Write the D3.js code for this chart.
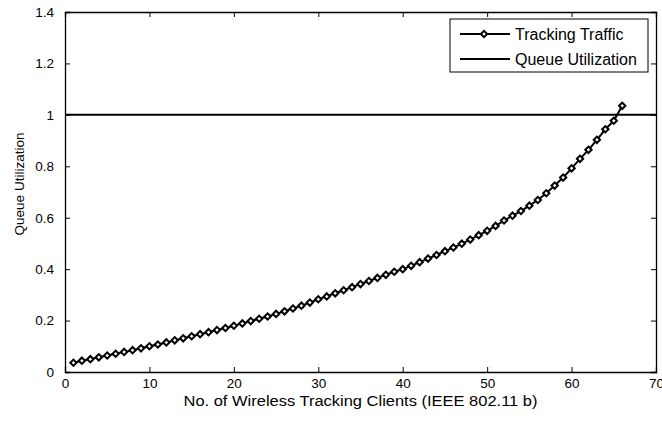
<!DOCTYPE html>
<html>
<head>
<meta charset="utf-8">
<script src="https://cdn.jsdelivr.net/npm/d3@7"></script>
<style>
body { margin: 0; background: #fff; }
text { font-family: "Liberation Sans", Arial, sans-serif; fill: #000; }
</style>
</head>
<body>
<svg id="chart"></svg>
<script>
// data
var clients = d3.range(1, 67);
var trackingTraffic = [
    0.036, 0.044, 0.050, 0.057, 0.064, 0.071, 0.078, 0.085, 0.092, 0.100,
    0.107, 0.115, 0.123, 0.131, 0.139, 0.147, 0.155, 0.163, 0.171, 0.180,
    0.189, 0.198, 0.207, 0.216, 0.226, 0.236, 0.247, 0.258, 0.270, 0.283,
    0.294, 0.306, 0.318, 0.330, 0.342, 0.354, 0.366, 0.378, 0.390, 0.400,
    0.413, 0.427, 0.441, 0.455, 0.470, 0.484, 0.499, 0.515, 0.532, 0.549,
    0.568, 0.589, 0.608, 0.626, 0.647, 0.669, 0.695, 0.725, 0.756, 0.792,
    0.829, 0.864, 0.903, 0.944, 0.977, 1.035
];
var queueLimit = 1;
var xTicks = [0, 10, 20, 30, 40, 50, 60, 70];
var yTicks = [0, 0.2, 0.4, 0.6, 0.8, 1, 1.2, 1.4];
var seriesNames = ['Tracking Traffic', 'Queue Utilization'];

var margin = { top: 12, right: 6, bottom: 49, left: 65 };
var width = 662 - margin.left - margin.right;
var height = 421 - margin.top - margin.bottom;

var svg = d3.select('#chart')
    .attr('width', 662)
    .attr('height', 421)
    .append('g')
    .attr('transform', `translate(${margin.left}, ${margin.top})`);

var xScale = d3.scaleLinear().domain([0, 70]).range([0, width]);
var yScale = d3.scaleLinear().domain([0, 1.4]).range([height, 0]);

// axes with inward ticks on all four sides
var fmt = d3.format('~g');
svg.append('g')
    .attr('transform', `translate(0, ${height})`)
    .call(d3.axisBottom(xScale).tickValues(xTicks).tickSize(-5).tickPadding(6).tickFormat(fmt));
svg.append('g')
    .call(d3.axisTop(xScale).tickValues(xTicks).tickSize(-5).tickFormat(''));
svg.append('g')
    .call(d3.axisLeft(yScale).tickValues(yTicks).tickSize(-5).tickPadding(11).tickFormat(fmt));
svg.append('g')
    .attr('transform', `translate(${width}, 0)`)
    .call(d3.axisRight(yScale).tickValues(yTicks).tickSize(-5).tickFormat(''));

svg.selectAll('.domain').attr('stroke', '#000').attr('stroke-width', 1.3);
svg.selectAll('.tick line').attr('stroke', '#000');
svg.selectAll('.tick text').style('font-size', '13.5px').attr('fill', '#000');

// Labels
svg.append('text')
    .attr('x', width / 2 - 177)
    .attr('y', height + 34)
    .attr('textLength', 354)
    .attr('lengthAdjust', 'spacingAndGlyphs')
    .style('font-size', '14px')
    .text('No. of Wireless Tracking Clients (IEEE 802.11 b)');

svg.append('text')
    .attr('transform', 'rotate(-90)')
    .attr('x', -172)
    .attr('y', -41)
    .style('text-anchor', 'middle')
    .style('font-size', '13.5px')
    .text('Queue Utilization');

// queue utilization limit
svg.append('line')
    .attr('x1', xScale(0)).attr('x2', xScale(70))
    .attr('y1', yScale(queueLimit)).attr('y2', yScale(queueLimit))
    .attr('stroke', '#000').attr('stroke-width', 2);

var line = d3.line()
    .x((d, i) => xScale(clients[i]))
    .y(d => yScale(d));

svg.append('path')
    .attr('d', line(trackingTraffic))
    .attr('fill', 'none')
    .attr('stroke', '#000')
    .attr('stroke-width', 2);

var diamond = d3.symbol().type(d3.symbolSquare).size(20);
svg.selectAll('.marker')
    .data(trackingTraffic)
    .enter()
    .append('path')
    .attr('class', 'marker')
    .attr('d', diamond)
    .attr('transform', (d, i) => `translate(${xScale(clients[i])}, ${yScale(d)}) rotate(45)`)
    .attr('fill', '#fff')
    .attr('stroke', '#000')
    .attr('stroke-width', 2);

// legend
var legend = svg.append('g').attr('transform', 'translate(385, 7)');
legend.append('rect')
    .attr('width', 198).attr('height', 53)
    .attr('fill', '#fff').attr('stroke', '#000').attr('stroke-width', 1);
for (var i = 0; i < seriesNames.length; i++) {
    var yPos = 15 + 25 * i;
    legend.append('line')
        .attr('x1', 10).attr('x2', 60)
        .attr('y1', yPos).attr('y2', yPos)
        .attr('stroke', '#000').attr('stroke-width', 2);
    if (i === 0) {
        legend.append('path')
            .attr('d', diamond)
            .attr('transform', `translate(34, ${yPos}) rotate(45)`)
            .attr('fill', '#fff').attr('stroke', '#000').attr('stroke-width', 2);
    }
    legend.append('text')
        .attr('x', 65)
        .attr('y', yPos + 5.5)
        .style('font-size', '16px')
        .text(seriesNames[i]);
}
</script>
</body>
</html>
